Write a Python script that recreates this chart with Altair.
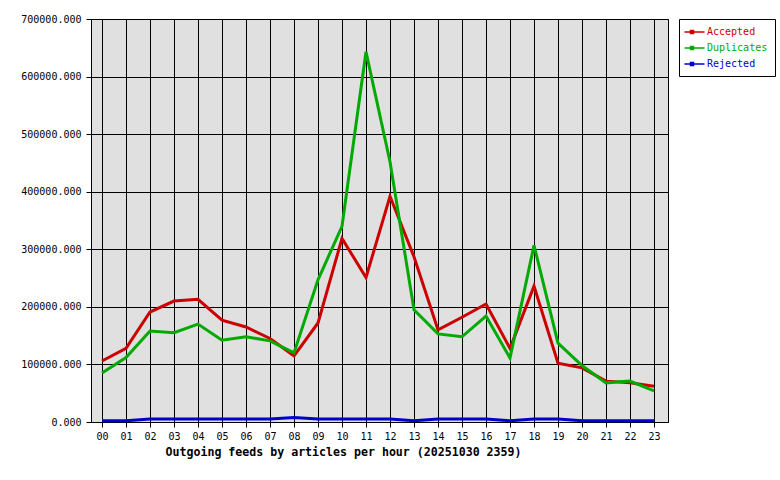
import altair as alt
import pandas as pd

hours = list(range(24))
accepted = [106000, 128000, 191000, 210000, 213000, 177000, 165000, 145000, 115000, 172000,
            319000, 251000, 392000, 287000, 160000, 182000, 205000, 128000, 236000, 102000,
            94000, 71000, 68000, 62000]
duplicates = [85000, 112000, 158000, 155000, 170000, 142000, 148000, 141000, 120000, 247000,
              340000, 643000, 452000, 195000, 153000, 148000, 184000, 111000, 307000, 137000,
              98000, 68000, 71000, 54000]
rejected = [2000, 2000, 5000, 5000, 5000, 5000, 5000, 5000, 8000, 5000,
            5000, 5000, 5000, 2000, 5000, 5000, 5000, 2000, 5000, 5000,
            2000, 2000, 2000, 2000]
series = ["Accepted", "Duplicates", "Rejected"]
colors = ["#cc0000", "#00aa00", "#0000cc"]
y_ticks = [0, 100000, 200000, 300000, 400000, 500000, 600000, 700000]

rows = []
for i, (name, vals) in enumerate(zip(series, [accepted, duplicates, rejected])):
    for h, v in zip(hours, vals):
        rows.append({"hour": h, "series": name, "value": v, "k": i})
df = pd.DataFrame(rows)

font = "DejaVu Sans Mono"
label_color_expr = ("datum.value == 'Accepted' ? '#cc0000' : "
                    "(datum.value == 'Duplicates' ? '#00aa00' : '#0000cc')")

chart = alt.Chart(df).mark_line(strokeWidth=3, strokeCap="butt", strokeJoin="miter").encode(
    x=alt.X("hour:Q",
            scale=alt.Scale(domain=[-0.458, 23.583], nice=False, zero=False),
            axis=alt.Axis(values=hours,
                          labelExpr="datum.value < 10 ? '0' + datum.value : '' + datum.value",
                          title="Outgoing feeds by articles per hour (20251030 2359)",
                          titleFont=font, titleFontSize=11.6, titleFontWeight="bold",
                          titleColor="black", titleX=252, titleY=30, titleBaseline="middle",
                          labelFont=font, labelFontSize=10, labelColor="black",
                          labelPadding=4, tickSize=5, tickColor="black",
                          domainColor="black", gridColor="black", gridWidth=1,
                          gridOpacity=1, labelFlush=False)),
    y=alt.Y("value:Q",
            scale=alt.Scale(domain=[0, 700000], nice=False),
            axis=alt.Axis(values=y_ticks, format=".3f", title=None,
                          labelFont=font, labelFontSize=10, labelColor="black",
                          labelPadding=5, tickSize=5, tickColor="black",
                          domainColor="black", gridColor="black", gridWidth=1,
                          gridOpacity=1)),
    color=alt.Color("series:N",
                    scale=alt.Scale(domain=series, range=colors),
                    legend=alt.Legend(title=None, orient="none", legendX=588, legendY=0,
                                      direction="vertical",
                                      strokeColor="black", fillColor="white",
                                      padding=7, rowPadding=5,
                                      labelFont=font, labelFontSize=10,
                                      labelColor=alt.ExprRef(label_color_expr),
                                      symbolType="M -1.5 0 L 2.5 0 M -0.3 -0.3 L 0.3 -0.3 L 0.3 0.3 L -0.3 0.3 Z",
                                      symbolSize=100, symbolStrokeWidth=1.5,
                                      symbolFillColor="white", labelOffset=9)),
    order=alt.Order("k:Q"),
    detail="series:N",
).properties(
    width=577, height=403,
    background="white",
    autosize=alt.AutoSizeParams(type="none"),
    padding={"left": 91, "top": 19, "right": 112, "bottom": 58},
).configure_view(
    fill="#e0e0e0", stroke="black", strokeWidth=1
)

chart.save("out.html", embed_options={"renderer": "svg", "actions": False})
